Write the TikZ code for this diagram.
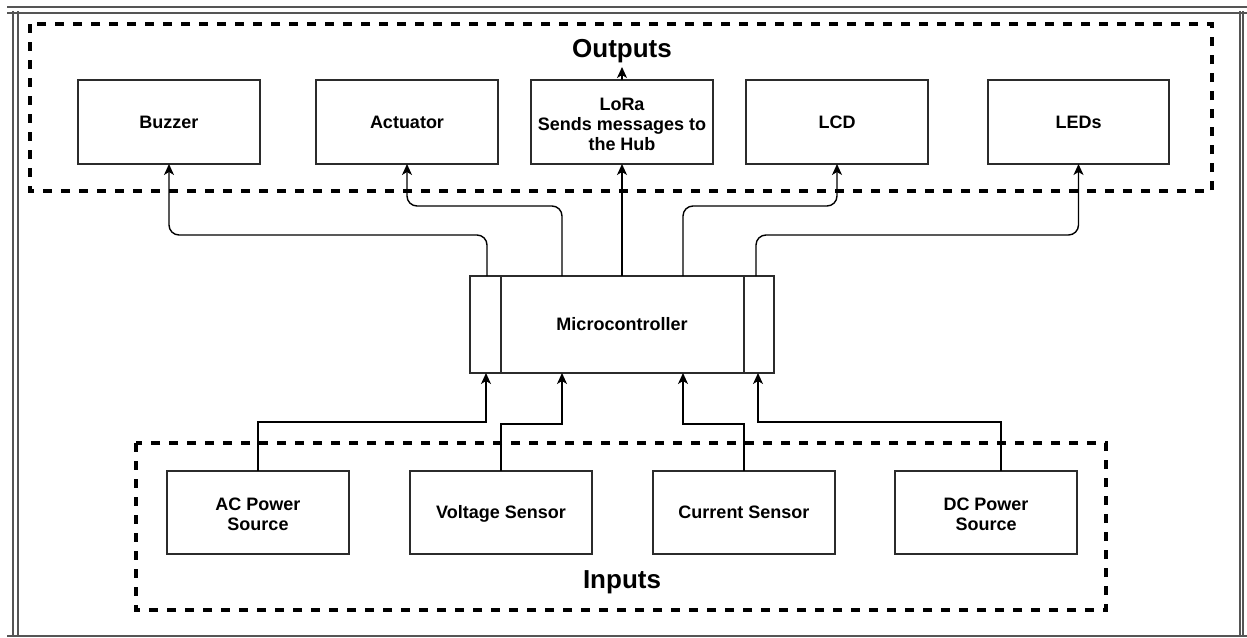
\documentclass[tikz,border=0pt]{standalone}
\usepackage{fontspec}
\setmainfont{Liberation Sans}
\usetikzlibrary{arrows.meta}
\definecolor{edge}{HTML}{2B2B2B}
\definecolor{framec}{HTML}{555555}
\newcommand\lstrut{\rule[-4.1pt]{0pt}{21.1pt}}
\newcommand\tstrut{\rule{0pt}{21pt}}
\newcommand\dstrut{\rule[-4.1pt]{0pt}{4.1pt}}
\tikzset{
  blk/.style={draw=edge, line width=1.6pt, fill=white, inner sep=0pt, outer sep=0pt,
    minimum width=182pt, minimum height=84pt, align=center,
    font=\fontsize{18}{20}\selectfont\bfseries, execute at begin node=\lstrut},
  conn/.style={draw=black, line width=1.4pt, -{Stealth[length=11pt,width=10pt,inset=3pt]}},
  grp/.style={draw=black, line width=3.2pt, dash pattern=on 9pt off 9pt},
  frame/.style={draw=framec, line width=1.5pt},
  ttl/.style={font=\fontsize{26}{30}\selectfont\bfseries, inner sep=0pt}
}
\begin{document}
\begin{tikzpicture}[x=1pt,y=-1pt]
\useasboundingbox (0,0) rectangle (1247,637);
% outer frame
\draw[frame] (7,7) -- (1247,7);
\draw[frame] (7,13) -- (1247,13);
\draw[frame] (7,636) -- (1247,636);
\draw[frame] (13,11) -- (13,637);
\draw[frame] (18,11) -- (18,637);
\draw[frame] (1240,11) -- (1240,637);
\draw[frame] (1243,11) -- (1243,637);
% groups
\draw[grp] (30,24) rectangle (1212,191);
\draw[grp] (136,443) rectangle (1106,610);
\node[ttl] (outl) at (622,51) {Outputs};
\node[ttl] (inl) at (622,582) {Inputs};
% outputs
\node[blk] (buzzer) at (169,122) {Buzzer};
\node[blk] (actuator) at (407,122) {Actuator};
\node[blk] (lora) at (622,122) {\tstrut LoRa\\Sends messages to\\the Hub\dstrut};
\node[blk] (lcd) at (837,122) {LCD};
\node[blk, minimum width=181pt] (leds) at (1078.5,122) {LEDs};
% microcontroller
\node[blk, minimum width=304pt, minimum height=97pt] (mc) at (622,324.5) {Microcontroller};
\draw[draw=edge, line width=1.6pt] ([xshift=31pt]mc.north west) -- ([xshift=31pt]mc.south west);
\draw[draw=edge, line width=1.6pt] ([xshift=-30pt]mc.north east) -- ([xshift=-30pt]mc.south east);
% inputs
\node[blk, minimum height=83pt] (ac) at (258,512.5) {\tstrut AC Power\\Source\dstrut};
\node[blk, minimum height=83pt] (volt) at (501,512.5) {Voltage Sensor};
\node[blk, minimum height=83pt] (curr) at (744,512.5) {Current Sensor};
\node[blk, minimum height=83pt] (dc) at (986,512.5) {\tstrut DC Power\\Source\dstrut};
% output connectors
\coordinate (outtip) at (622,67);
\draw[conn] (lora.north) -- (outtip);
\draw[conn, rounded corners=10pt] ([xshift=17pt]mc.north west) -- ++(0,-41) -| (buzzer.south);
\draw[conn, rounded corners=10pt] ([xshift=92pt]mc.north west) -- ++(0,-70) -| (actuator.south);
\draw[conn] (mc.north) -- (lora.south);
\draw[conn, rounded corners=10pt] ([xshift=213pt]mc.north west) -- ++(0,-70) -| (lcd.south);
\draw[conn, rounded corners=10pt] ([xshift=286pt]mc.north west) -- ++(0,-41) -| (leds.south);
% input connectors
\draw[conn] (ac.north) -- ++(0,-49) -| ([xshift=16pt]mc.south west);
\draw[conn] (volt.north) -- ++(0,-47) -| ([xshift=92pt]mc.south west);
\draw[conn] (curr.north) -- ++(0,-47) -| ([xshift=213pt]mc.south west);
\draw[conn] ([xshift=15pt]dc.north) -- ++(0,-49) -| ([xshift=288pt]mc.south west);
\end{tikzpicture}
\end{document}
